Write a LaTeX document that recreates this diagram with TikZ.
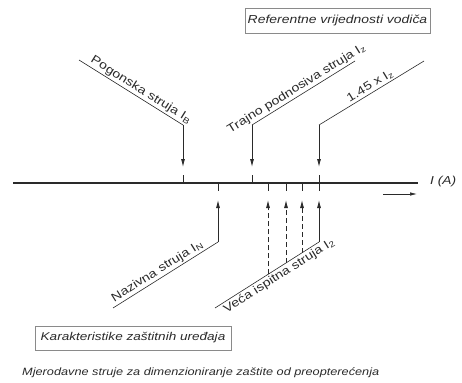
\documentclass[tikz,border=0pt]{standalone}
\usepackage{fontspec}
\setmainfont{Liberation Sans}[FakeStretch=1.2]
\usetikzlibrary{arrows.meta}
\definecolor{ink}{HTML}{2A2A2A}
\definecolor{boxgray}{HTML}{8A8A8A}
\tikzset{
  leader/.style={draw=ink, line width=0.6pt},
  pointer/.style={draw=ink, line width=0.8pt, -{Latex[length=8pt,width=4pt]}},
  dpointer/.style={pointer, dash pattern=on 5pt off 3pt},
  tick/.style={draw=ink, line width=0.9pt},
  lbl/.style={text=ink, font=\fontsize{11.8}{14}\selectfont, inner sep=1.5pt},
  tagbox/.style={draw=boxgray, line width=0.6pt, text=ink, font=\fontsize{11.6}{13}\selectfont\itshape, inner sep=0pt, minimum height=25pt},
}
\begin{document}
\begin{tikzpicture}[x=1pt,y=-1pt]
\useasboundingbox (0,0) rectangle (462,382);
% axis
\coordinate (ax0) at (13,183);
\coordinate (ax1) at (418,183);
\draw[ink, line width=1.8pt] (ax0) -- (ax1);
\node[text=ink, font=\fontsize{11.5}{13}\selectfont\itshape, anchor=west, inner sep=0pt] (iA) at (430,182) {I (A)};
\coordinate (dir0) at (383,194);
\coordinate (dir1) at (417,194);
\draw[ink, line width=0.7pt, -{Latex[length=7pt,width=3.5pt]}] (dir0) -- (dir1);
% ticks above
\foreach \x in {183,252,319} \draw[tick] (\x,175) -- (\x,183);
% ticks below
\foreach \x in {218,268,286,302,319} \draw[tick] (\x,183) -- (\x,191);
% top leaders
\coordinate (pA) at (79,60);  \coordinate (pB) at (183,125); \coordinate (pT) at (183,167);
\coordinate (tA) at (355,61); \coordinate (tB) at (252,125); \coordinate (tT) at (252,167);
\coordinate (fA) at (424,61); \coordinate (fB) at (319,125); \coordinate (fT) at (319,167);
\draw[leader] (pA) -- node[lbl, sloped, above, pos=0.56] {Pogonska struja I\textsubscript{B}} (pB);
\draw[pointer] (pB) -- (pT);
\draw[leader] (tB) -- node[lbl, sloped, above, pos=0.47] {Trajno podnosiva struja I\textsubscript{z}} (tA);
\draw[pointer] (tB) -- (tT);
\draw[leader] (fB) -- node[lbl, sloped, above, pos=0.52] {1.45 x I\textsubscript{z}} (fA);
\draw[pointer] (fB) -- (fT);
% bottom leaders
\coordinate (nA) at (113,308); \coordinate (nB) at (218,242); \coordinate (nT) at (218,200);
\coordinate (vA) at (215,308); \coordinate (vB) at (319,242); \coordinate (vT) at (319,200);
\draw[leader] (nA) -- node[lbl, sloped, above, pos=0.46] {Nazivna struja I\textsubscript{N}} (nB);
\draw[pointer] (nB) -- (nT);
\draw[leader] (vA) -- node[lbl, sloped, below, pos=0.58] {Veća ispitna struja I\textsubscript{2}} (vB);
\draw[pointer] (vB) -- (vT);
\coordinate (d1) at (268,274.4); \coordinate (d1t) at (268,200);
\coordinate (d2) at (286,263.0); \coordinate (d2t) at (286,200);
\coordinate (d3) at (302,252.8); \coordinate (d3t) at (302,200);
\draw[dpointer] (d1) -- (d1t);
\draw[dpointer] (d2) -- (d2t);
\draw[dpointer] (d3) -- (d3t);
% boxes
\node[tagbox, minimum width=185pt] (ref) at (337.5,20.5) {Referentne vrijednosti vodiča};
\node[tagbox, minimum width=196pt, minimum height=24pt, font=\fontsize{11.3}{13}\selectfont\itshape] (kar) at (133,338) {Karakteristike zaštitnih uređaja};
% caption
\node[text=ink, font=\fontsize{10.6}{12}\selectfont\itshape, anchor=west, inner sep=0pt] (cap) at (22,373) {Mjerodavne struje za dimenzioniranje zaštite od preopterećenja};
\end{tikzpicture}
\end{document}
